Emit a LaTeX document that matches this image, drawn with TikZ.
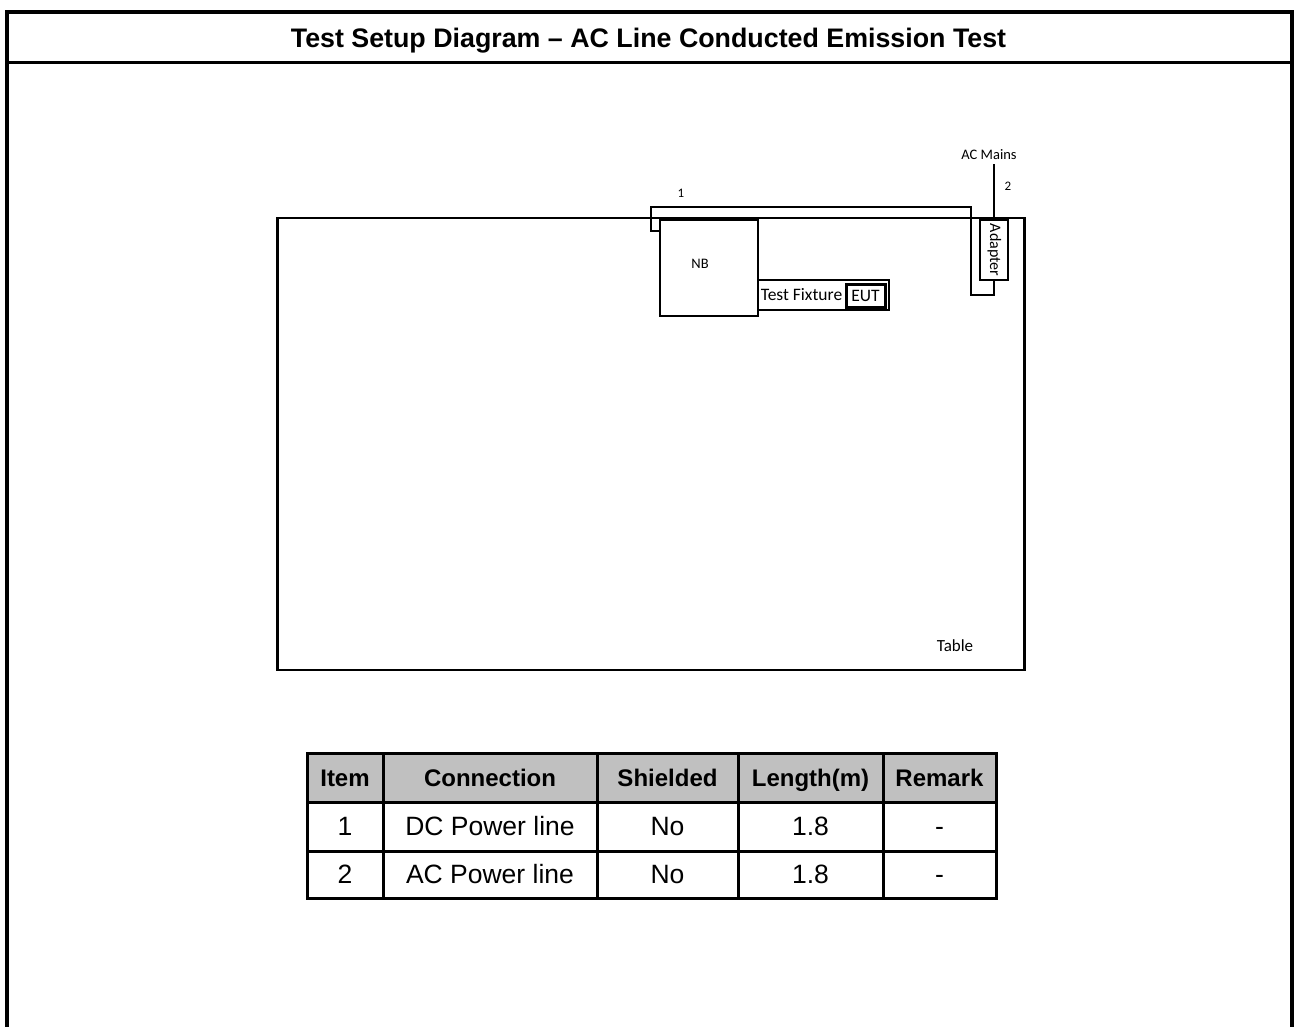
\documentclass[tikz,border=0pt]{standalone}
\usepackage{fontspec}
\setmainfont{Liberation Sans}
\newfontfamily\calibri{Carlito}
\definecolor{hdrgray}{RGB}{192,192,192}
\tikzset{
  part/.style={draw,line width=2.5pt,inner sep=0pt},
  cable/.style={line width=2.5pt},
  lbl/.style={font=\calibri\fontsize{16}{18}\selectfont,inner sep=0pt},
  cell/.style={draw,line width=3pt,inner sep=0pt,text height=18.6pt,text depth=0pt,font=\fontsize{26.5}{30}\selectfont}
}

\begin{document}
\begin{tikzpicture}[x=1pt,y=-1pt]
\path[use as bounding box] (0,0) rectangle (1295,1026);

% frame and title
\draw[line width=4pt] (7,1030) -- (7,12) -- (1292,12) -- (1292,1030);
\draw[line width=3pt] (7,62) -- (1292,62);
\node[font=\fontsize{26.8}{30}\selectfont\bfseries,text height=19pt,text depth=0pt] (title) at (648.5,38) {Test Setup Diagram -- AC Line Conducted Emission Test};

% table with the setup
\node[part,minimum width=747pt,minimum height=452pt] (table) at (651,444) {};
\node[lbl,font=\calibri\fontsize{17}{19}\selectfont] (tablelbl) at (955,646) {Table};

\node[part,minimum width=98pt,minimum height=96pt] (nb) at (709,268) {};
\node[lbl,font=\calibri\fontsize{14.5}{16}\selectfont] (nblbl) at (700,264) {NB};

\node[part,minimum width=131pt,minimum height=30pt] (fixture) at (823.5,295) {};
\node[lbl,font=\calibri\fontsize{17.5}{19}\selectfont] (fixturelbl) at (801.5,295) {Test Fixture};
\node[part,line width=3pt,minimum width=39pt,minimum height=23pt,font=\calibri\fontsize{17.5}{19}\selectfont] (eut) at (865.5,295.5) {EUT};

\node[part,minimum width=28pt,minimum height=60pt] (adapter) at (994,250) {};
\node[lbl,rotate=-90] (adapterlbl) at (994.5,250) {Adapter};

\node[lbl,font=\calibri\fontsize{14.5}{16}\selectfont] (mains) at (989,155) {AC Mains};

% cables
\coordinate (bend) at (971,295);
\draw[cable] ([yshift=-12pt]nb.north west) -- ++(-8,0) |- (971,207) -- (bend) -| (adapter.south);
\draw[cable] (adapter.north) -- ++(0,-55);
\node[lbl,font=\calibri\fontsize{13}{15}\selectfont] (c1) at (681,193) {1};
\node[lbl,font=\calibri\fontsize{13}{15}\selectfont] (c2) at (1008,186) {2};

% cable list
\foreach \cx/\cw/\txt [count=\c] in {345/76/Item,490/214/Connection,667.5/141/Shielded,810.5/145/Length(m),939.5/113/Remark}{
  \node[cell,fill=hdrgray,font=\fontsize{24}{30}\selectfont\bfseries,minimum width=\cw pt,minimum height=49pt] (h\c) at (\cx,777.5) {\txt};
}
\foreach \cx/\cw/\a/\b [count=\c] in {345/76/1/2,490/214/DC Power line/AC Power line,667.5/141/No/No,810.5/145/1.8/1.8,939.5/113/-/-}{
  \node[cell,minimum width=\cw pt,minimum height=49pt] (ra\c) at (\cx,826.5) {\a};
  \node[cell,minimum width=\cw pt,minimum height=47pt] (rb\c) at (\cx,874.5) {\b};
}
\end{tikzpicture}
\end{document}
